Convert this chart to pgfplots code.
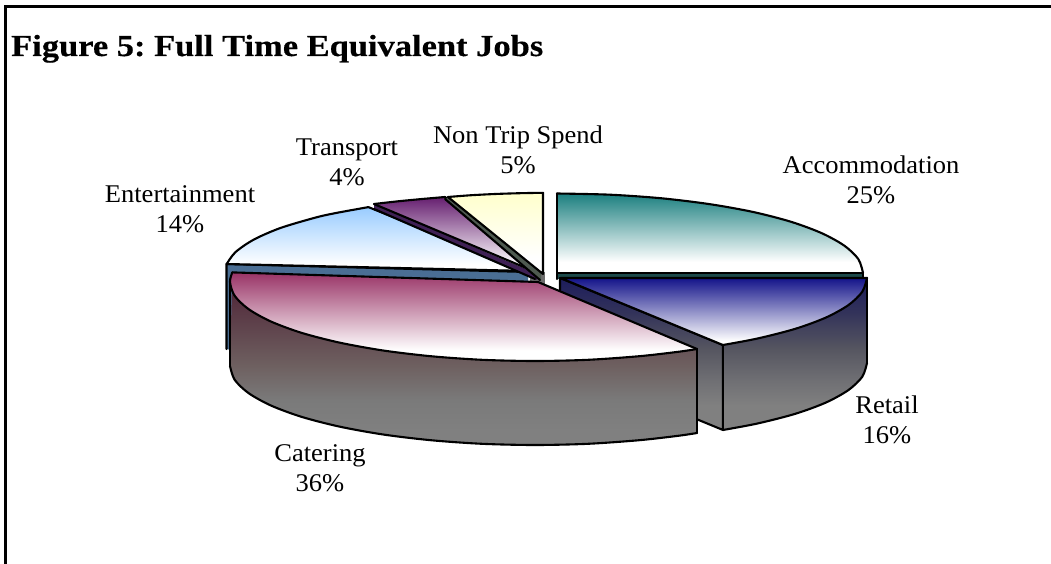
\documentclass[border=0pt]{standalone}
\usepackage{pgfplots}
\pgfplotsset{compat=1.18}
\usepackage{fontspec}
\setmainfont{Liberation Serif}[FakeStretch=1.04]
\newfontfamily\tfont{Liberation Serif Bold}[FakeStretch=1.13,FakeBold=0.4]
\definecolor{entS}{HTML}{4A6E94}
\definecolor{entT}{HTML}{99CCFF}
\definecolor{traS}{HTML}{3F2055}
\definecolor{traT}{HTML}{661F70}
\definecolor{nonS}{HTML}{4E5A50}
\definecolor{nonT}{HTML}{FFFFCC}
\definecolor{accS}{HTML}{1C4A4A}
\definecolor{accT}{HTML}{1B7F7F}
\definecolor{retT}{HTML}{14148A}
\definecolor{retA}{HTML}{1C1C5C}
\definecolor{retB}{HTML}{33335A}
\definecolor{retC}{HTML}{555560}
\definecolor{retD}{HTML}{707074}
\definecolor{catT}{HTML}{993366}
\definecolor{catA}{HTML}{4A2038}
\definecolor{catB}{HTML}{55303F}
\definecolor{catC}{HTML}{6E6060}
\definecolor{catD}{HTML}{7A7A7A}
\definecolor{gry}{HTML}{808080}
\pgfdeclareverticalshading{shcat}{100bp}{color(0bp)=(white);color(31bp)=(white);color(75bp)=(catT);color(100bp)=(catT)}
\pgfdeclareverticalshading{shacc}{100bp}{color(0bp)=(white);color(32bp)=(white);color(75bp)=(accT);color(100bp)=(accT)}
\pgfdeclareverticalshading{shret}{100bp}{color(0bp)=(white);color(28bp)=(white);color(75bp)=(retT);color(100bp)=(retT)}
\pgfdeclareverticalshading{shent}{100bp}{color(0bp)=(white);color(30bp)=(white);color(75bp)=(entT);color(100bp)=(entT)}
\pgfdeclareverticalshading{shtra}{100bp}{color(0bp)=(white);color(30bp)=(white);color(75bp)=(traT);color(100bp)=(traT)}
\pgfdeclareverticalshading{shnon}{100bp}{color(0bp)=(white);color(35bp)=(white);color(75bp)=(nonT);color(100bp)=(nonT)}
\pgfdeclareverticalshading{shrside}{100bp}{color(0bp)=(gry);color(33bp)=(gry);color(41bp)=(retD);color(52bp)=(retC);color(63.5bp)=(retB);color(75bp)=(retA);color(100bp)=(retA)}
\pgfdeclareverticalshading{shcside}{100bp}{color(0bp)=(gry);color(29bp)=(gry);color(38bp)=(catD);color(48bp)=(catC);color(67bp)=(catB);color(75bp)=(catA);color(100bp)=(catA)}
\pgfplotsset{
  edge/.style={black,line width=2.1pt,line join=round,line cap=round,no markers},
  arcedge/.style={edge,smooth},
  face/.style={draw=none,no markers},
}
\newcommand\lab[3]{\node[align=center,inner sep=0pt,font=\fontsize{25.5}{30}\selectfont] at (axis cs:#1,#2) {#3};}
\begin{document}
\begin{tikzpicture}
\path[use as bounding box] (0,0) rectangle (1051pt,564pt);
\begin{axis}[at={(0,0)},anchor=south west,scale only axis,width=1051pt,height=564pt,
  xmin=0,xmax=1051,ymin=0,ymax=564,y dir=reverse,hide axis,clip=false]
% frame
\addplot[black,line width=2.4pt,no markers] coordinates {(1051,6.5)(5.5,6.5)(5.5,564)};
% centre
\addplot[face,fill=gry!85!black] coordinates {(530,272)(545,272)(545,284)(530,284)};
% Entertainment
\addplot[face,fill=entS] coordinates {(226.5,264)(528,272)(528,283)(231,350)(226.5,349)};
\addplot[edge] coordinates {(226.5,349)(226.5,264)(528,272)};
\addplot[face,shading=shent] coordinates {(226.7,264)(235.4,252.2)(253.6,239.7)(280.1,228.1)(314.3,217.9)(333.9,213.4)(368.4,207.1)(528,271)};
\addplot[arcedge] coordinates {(226.7,264)(235.4,252.2)(253.6,239.7)(280.1,228.1)(314.3,217.9)(333.9,213.4)(368.4,207.1)};
\addplot[edge] coordinates {(368.4,207.1)(528,271)(226.7,264)};
% Transport
\addplot[face,fill=traS] coordinates {(374,204)(537,274)(537,280)(374,209)};
\addplot[edge] coordinates {(374,209)(535,279)};
\addplot[face,shading=shtra] coordinates {(374,204)(398,201.3)(422,199)(445,197)(538,273)};
\addplot[arcedge] coordinates {(374,204)(398,201.3)(422,199)(445,197)};
\addplot[edge] coordinates {(445,197)(538,273)(374,204)};
% Non trip spend
\addplot[face,fill=nonS] coordinates {(448,197)(541,273)(541,281)(445,200)};
\addplot[edge] coordinates {(445,199)(540,280)};
\addplot[face,shading=shnon] coordinates {(448,197)(470,195.3)(495,194)(520,193.2)(543,192.8)(543,274)};
\addplot[arcedge] coordinates {(448,197)(470,195.3)(495,194)(520,193.2)(543,192.8)};
\addplot[edge] coordinates {(543,192.8)(543,274)(448,197)};
% Accommodation
\addplot[face,fill=accS] coordinates {(557,273)(863,273)(863,279)(557,279)};
\addplot[face,shading=shacc] coordinates {(557,193.5)(610.1,194.7)(661.7,198.3)(710,204.2)(753.7,212.1)(791.4,221.9)(822,233.3)(844.5,245.8)(858.4,259.2)(863,273)(557,273)};
\addplot[arcedge] coordinates {(557,193.5)(610.1,194.7)(661.7,198.3)(710,204.2)(753.7,212.1)(791.4,221.9)(822,233.3)(844.5,245.8)(858.4,259.2)(863,273)};
\addplot[edge] coordinates {(863,278)(863,273)(557,273)(557,193.5)};
\addplot[edge] coordinates {(557,273)(557,279)};
% Retail inner face
\addplot[face,shading=shrside] coordinates {(560,278)(723,345)(723,430)(560,363)};
\addplot[edge] coordinates {(560,290)(560,278)(723,345)(723,430)(560,363)};
% Retail side
\addplot[face,shading=shrside] coordinates {(867,278)(862.3,291.7)(848.5,305)(826,317.5)(795.3,328.8)(757.5,338.5)(722.9,345)(722.9,430)(757.5,423.5)(795.3,413.8)(826,402.5)(848.5,390)(862.3,376.7)(867,363)};
\addplot[arcedge] coordinates {(722.9,430)(757.5,423.5)(795.3,413.8)(826,402.5)(848.5,390)(862.3,376.7)(867,363)};
\addplot[edge] coordinates {(867,363)(867,278)};
\addplot[edge] coordinates {(722.9,345)(722.9,430)};
% Retail top
\addplot[face,shading=shret] coordinates {(560.5,278)(867,278)(862.3,291.7)(848.5,305)(826,317.5)(795.3,328.8)(757.5,338.5)(722.9,345)};
\addplot[arcedge] coordinates {(867,278)(862.3,291.7)(848.5,305)(826,317.5)(795.3,328.8)(757.5,338.5)(722.9,345)};
\addplot[edge] coordinates {(867,278)(560.5,278)(722.9,345)};
% Catering side
\addplot[face,shading=shcside] coordinates {(232.3,272.4)(230,282)(234.6,295.7)(248.4,309)(270.9,321.5)(301.4,332.8)(339,342.5)(382.5,350.4)(430.7,356.2)(482,359.8)(535,361)(588,359.8)(639.3,356.2)(678.2,351.8)(697,349)(697,433)(678.2,435.8)(639.3,440.2)(588,443.8)(535,445)(482,443.8)(430.7,440.2)(382.5,434.4)(339,426.5)(301.4,416.8)(270.9,405.5)(248.4,393)(234.6,379.7)(230,366)};
\addplot[arcedge] coordinates {(697,433)(678.2,435.8)(639.3,440.2)(588,443.8)(535,445)(482,443.8)(430.7,440.2)(382.5,434.4)(339,426.5)(301.4,416.8)(270.9,405.5)(248.4,393)(234.6,379.7)(230,366)};
\addplot[edge] coordinates {(230,366)(230,282)};
\addplot[edge] coordinates {(697,349)(697,433)};
% Catering top
\addplot[face,shading=shcat] coordinates {(538,282)(232.3,272.4)(230,282)(234.6,295.7)(248.4,309)(270.9,321.5)(301.4,332.8)(339,342.5)(382.5,350.4)(430.7,356.2)(482,359.8)(535,361)(588,359.8)(639.3,356.2)(678.2,351.8)(697,349)};
\addplot[arcedge] coordinates {(232.3,272.4)(230,282)(234.6,295.7)(248.4,309)(270.9,321.5)(301.4,332.8)(339,342.5)(382.5,350.4)(430.7,356.2)(482,359.8)(535,361)(588,359.8)(639.3,356.2)(678.2,351.8)(697,349)};
\addplot[edge] coordinates {(232.3,272.4)(538,282)(697,349)};
% labels
\node[anchor=base west,inner sep=0pt,font=\fontsize{30.5}{34}\selectfont\tfont\frenchspacing] at (axis cs:11,56) {Figure 5: Full Time Equivalent Jobs};
\lab{518}{150}{Non Trip Spend\\5\%}
\lab{347}{162}{Transport\\4\%}
\lab{180}{209}{Entertainment\\14\%}
\lab{871}{180}{Accommodation\\25\%}
\lab{887}{420}{Retail\\16\%}
\lab{320}{468}{Catering\\36\%}
\end{axis}
\end{tikzpicture}
\end{document}
